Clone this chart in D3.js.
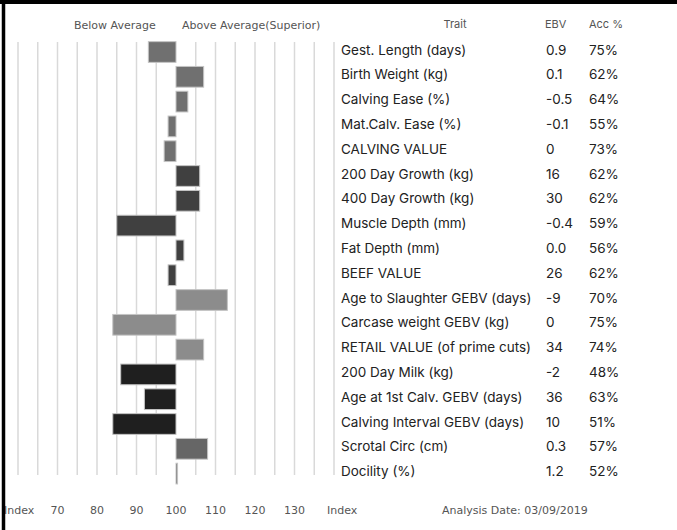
<html>
  <head>
    <style>
      body { margin: 0; background: #fff; }
      .grid line { stroke: #d9d9d9; stroke-width: 1.5px; }
      .bar { stroke: #c4c4c4; stroke-width: 1px; }
      .lbl { font-family: "DejaVu Sans", Verdana, sans-serif; font-size: 11px; fill: #555; }
      .hdr { font-family: Inter, "Open Sans", sans-serif; font-size: 11px; fill: #555; }
      .row { font-family: Inter, "Open Sans", sans-serif; font-size: 13.5px; fill: #222; }
    </style>
  </head>
  <body>
    <script src="https://d3js.org/d3.v7.min.js"></script>
    <script>
    var width = 677, height = 530;

    var traits = ["Gest. Length (days)", "Birth Weight (kg)", "Calving Ease (%)", "Mat.Calv. Ease (%)", "CALVING VALUE",
      "200 Day Growth (kg)", "400 Day Growth (kg)", "Muscle Depth (mm)", "Fat Depth (mm)", "BEEF VALUE",
      "Age to Slaughter GEBV (days)", "Carcase weight GEBV (kg)", "RETAIL VALUE (of prime cuts)",
      "200 Day Milk (kg)", "Age at 1st Calv. GEBV (days)", "Calving Interval GEBV (days)",
      "Scrotal Circ (cm)", "Docility (%)"];
    var ebv = ["0.9", "0.1", "-0.5", "-0.1", "0", "16", "30", "-0.4", "0.0", "26", "-9", "0", "34", "-2", "36", "10", "0.3", "1.2"];
    var acc = ["75%", "62%", "64%", "55%", "73%", "62%", "62%", "59%", "56%", "62%", "70%", "75%", "74%", "48%", "63%", "51%", "57%", "52%"];
    var indexValues = [93, 107, 103, 98, 97, 106, 106, 85, 102, 98, 113, 84, 107, 86, 92, 84, 108, 100.4];
    var groups = ["calving", "calving", "calving", "calving", "calving", "growth", "growth", "growth", "growth", "growth",
      "carcase", "carcase", "carcase", "maternal", "maternal", "maternal", "other", "other"];
    var indexTicks = [70, 80, 90, 100, 110, 120, 130];

    var color = d3.scaleOrdinal()
        .domain(["calving", "growth", "carcase", "maternal", "other"])
        .range(["#707070", "#404040", "#8c8c8c", "#1f1f1f", "#666666"]);

    var rows = traits.map(function(t, i) {
      return { trait: t, ebv: ebv[i], acc: acc[i], value: indexValues[i], group: groups[i] };
    });

    var svg = d3.select("body")
        .append("svg")
        .attr("width", width)
        .attr("height", height);

    var x = d3.scaleLinear().domain([60, 140]).range([18, 334]);
    var y = d3.scaleBand()
        .domain(traits)
        .range([39.6, 486])
        .paddingInner(0.165)
        .paddingOuter(0.0825);

    // vertical grid every 5 index points (100 line left out)
    svg.append("g").attr("class", "grid")
      .selectAll("line")
      .data(d3.range(60, 141, 5).filter(function(v) { return v !== 100; }))
      .enter().append("line")
        .attr("x1", function(d) { return x(d); })
        .attr("x2", function(d) { return x(d); })
        .attr("y1", 42)
        .attr("y2", 475);

    svg.append("g")
      .selectAll("rect")
      .data(rows)
      .enter().append("rect")
        .attr("class", "bar")
        .attr("x", function(d) { return x(Math.min(d.value, 100)); })
        .attr("width", function(d) { return Math.abs(x(d.value) - x(100)); })
        .attr("y", function(d) { return y(d.trait); })
        .attr("height", y.bandwidth())
        .style("fill", function(d) { return color(d.group); });

    // top headers
    svg.append("text").attr("class", "lbl").attr("x", 74).attr("y", 29).text("Below Average");
    svg.append("text").attr("class", "lbl").attr("x", 182).attr("y", 29).text("Above Average(Superior)");
    svg.append("text").attr("class", "hdr").attr("x", 455).attr("y", 28).attr("text-anchor", "middle").text("Trait");
    svg.append("text").attr("class", "hdr").attr("x", 545).attr("y", 28).text("EBV");
    svg.append("text").attr("class", "hdr").attr("x", 589).attr("y", 28).text("Acc %");

    // table
    var table = svg.append("g").selectAll("g")
      .data(rows)
      .enter().append("g")
        .attr("transform", function(d) { return "translate(0," + (y(d.trait) + y.bandwidth() / 2 + 2.5) + ")"; });
    table.append("text").attr("class", "row").attr("x", 341).text(function(d) { return d.trait; });
    table.append("text").attr("class", "row").attr("x", 546).text(function(d) { return d.ebv; });
    table.append("text").attr("class", "row").attr("x", 589).text(function(d) { return d.acc; });

    // bottom axis
    var axis = svg.append("g").attr("transform", "translate(0,514)");
    axis.selectAll("text.tick")
      .data(indexTicks)
      .enter().append("text")
        .attr("class", "lbl tick")
        .attr("x", function(d) { return x(d); })
        .attr("text-anchor", "middle")
        .text(function(d) { return d; });
    axis.append("text").attr("class", "lbl").attr("x", 4).text("Index");
    axis.append("text").attr("class", "lbl").attr("x", 327).text("Index");
    axis.append("text").attr("class", "lbl").attr("x", 442).text("Analysis Date: 03/09/2019");

    // frame
    svg.append("line").attr("x1", 0).attr("x2", width).attr("y1", 2).attr("y2", 2)
        .style("stroke", "#000").style("stroke-width", 4);
    svg.append("line").attr("x1", 3.5).attr("x2", 3.5).attr("y1", 0).attr("y2", height)
        .style("stroke", "#000").style("stroke-width", 3.5);
    </script>
  </body>
</html>
